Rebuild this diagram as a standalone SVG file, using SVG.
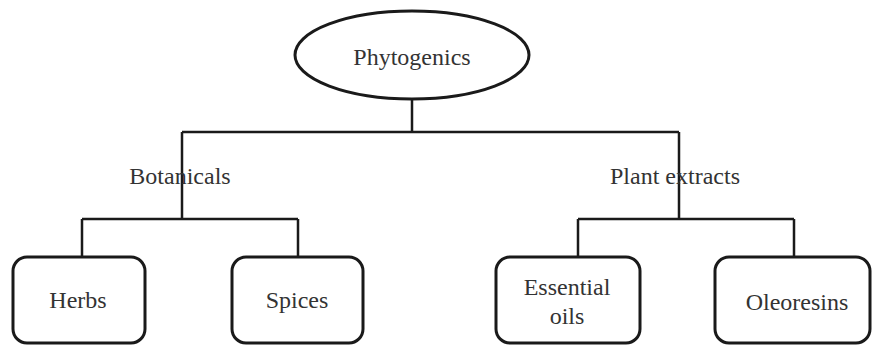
<svg xmlns="http://www.w3.org/2000/svg" width="872" height="345" viewBox="0 0 872 345">
<style>
.ln{stroke:#1a1a1a;stroke-width:2.5;fill:none}
.bx{stroke:#1a1a1a;stroke-width:3;fill:#fff}
.t{font-family:"Liberation Serif","Times New Roman",serif;font-size:24px;fill:#333;text-anchor:middle}
</style>
<rect width="872" height="345" fill="#fff"/>
<g id="connectors">
<path class="ln" d="M412 99V132M182 132H679M182 132V219M679 132V219M82 219H298M82 219V257M298 219V257M578 219H794M578 219V257M794 219V257"/>
</g>
<g id="phytogenics">
<ellipse class="bx" cx="412" cy="55" rx="117" ry="44"/>
<text class="t" x="412" y="65">Phytogenics</text>
</g>
<g id="botanicals"><text class="t" x="180" y="184">Botanicals</text></g>
<g id="plant-extracts"><text class="t" x="675" y="184">Plant extracts</text></g>
<g id="herbs">
<rect class="bx" x="13" y="257" width="132" height="86" rx="14"/>
<text class="t" x="78" y="308">Herbs</text>
</g>
<g id="spices">
<rect class="bx" x="232" y="257" width="131" height="86" rx="14"/>
<text class="t" x="297" y="308">Spices</text>
</g>
<g id="essential-oils">
<rect class="bx" x="496" y="257" width="144" height="86" rx="14"/>
<text class="t" x="567" y="295">Essential</text>
<text class="t" x="567" y="324">oils</text>
</g>
<g id="oleoresins">
<rect class="bx" x="715" y="257" width="155" height="86" rx="14"/>
<text class="t" x="797" y="310">Oleoresins</text>
</g>
</svg>
